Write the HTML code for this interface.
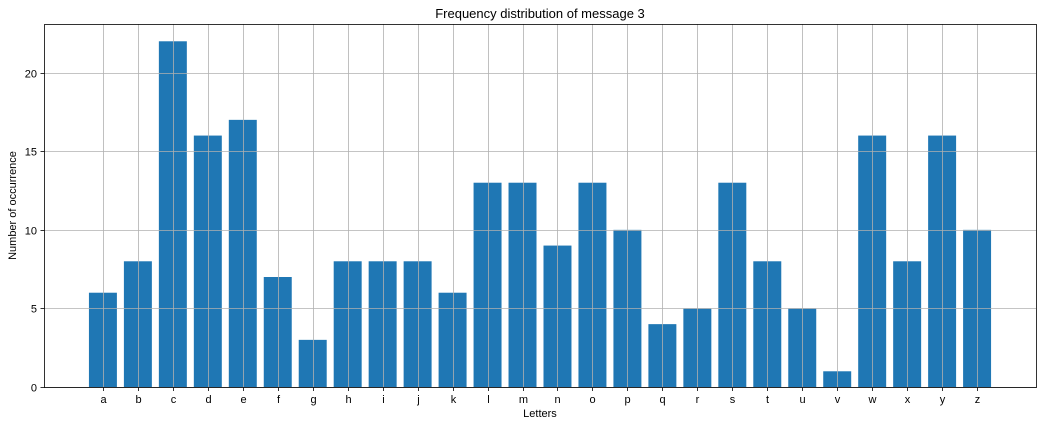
<!DOCTYPE html>
<html><head><meta charset="utf-8"><style>
html,body{margin:0;padding:0;background:#fff;}
svg{display:block;font-family:"Liberation Sans","DejaVu Sans",sans-serif;}
</style></head><body>
<svg id="chart" width="1044" height="427" xmlns="http://www.w3.org/2000/svg"></svg>
<script>
const categories = ["a","b","c","d","e","f","g","h","i","j","k","l","m","n","o","p","q","r","s","t","u","v","w","x","y","z"];
const counts = [6,8,22,16,17,7,3,8,8,8,6,13,13,9,13,10,4,5,13,8,5,1,16,8,16,10];
const yTicks = [0,5,10,15,20];

const NS = "http://www.w3.org/2000/svg";
const svg = document.getElementById("chart");
const L = 44, R = 1036, T = 24, B = 387;
const maxV = Math.max(...counts) * 1.05;
const n = categories.length;
const xMin = -0.5 - 0.8*0 - 1.185, xMax = n - 1 + 1.685;
function xs(i){ return L + (i - xMin) / (xMax - xMin) * (R - L); }
function ys(v){ return B - v / maxV * (B - T); }
function mk(tag, attrs, parent){
  const e = document.createElementNS(NS, tag);
  for (const k in attrs) e.setAttribute(k, attrs[k]);
  (parent || svg).appendChild(e);
  return e;
}
// bars
const barsG = mk("g", {});


categories.forEach((c, i) => {
  const x0 = xs(i - 0.4), x1 = xs(i + 0.4);
  const r = mk("rect", {x: x0, y: ys(counts[i]), width: x1 - x0, height: B - ys(counts[i]), fill: "#1f77b4"}, barsG);
  
  
});
// grid
const gridG = mk("g", {stroke: "#b0b0b0", "stroke-width": 0.8});


categories.forEach((c, i) => {
  const x = Math.round(xs(i)) + 0.5;
  mk("line", {x1: x, x2: x, y1: T, y2: B}, gridG);
});
yTicks.forEach(v => {
  const y = Math.round(ys(v)) + 0.5;
  mk("line", {x1: L, x2: R, y1: y, y2: y}, gridG);
});
// frame
const frame = mk("rect", {x: L + 0.5, y: T + 0.5, width: R - L, height: B - T, fill: "none", stroke: "#000", "stroke-width": 0.8});


// x ticks
const xtG = mk("g", {"font-size": 11, "text-anchor": "middle", fill: "#000"});


categories.forEach((c, i) => {
  const x = Math.round(xs(i)) + 0.5;
  mk("line", {x1: x, x2: x, y1: B + 0.5, y2: B + 4, stroke: "#000", "stroke-width": 0.8}, xtG);
  const t = mk("text", {x: x, y: B + 16}, xtG);
  t.textContent = c;
  
  
});
// y ticks
const ytG = mk("g", {"font-size": 11, "text-anchor": "end", fill: "#000"});


yTicks.forEach(v => {
  const y = Math.round(ys(v)) + 0.5;
  mk("line", {x1: L - 3.5, x2: L + 0.5, y1: y, y2: y, stroke: "#000", "stroke-width": 0.8}, ytG);
  const t = mk("text", {x: L - 7, y: y + 4}, ytG);
  t.textContent = v;
  
  
});
// titles
const title = mk("text", {x: (L + R) / 2, y: 18, "font-size": 13, "text-anchor": "middle"});
title.textContent = "Frequency distribution of message 3";


const xl = mk("text", {x: (L + R) / 2, y: 417, "font-size": 11, "text-anchor": "middle"});
xl.textContent = "Letters";


const yl = mk("text", {x: 0, y: 0, "font-size": 11, "text-anchor": "middle", transform: "translate(16," + ((T + B) / 2) + ") rotate(-90)"});
yl.textContent = "Number of occurrence";


</script>
</body></html>
